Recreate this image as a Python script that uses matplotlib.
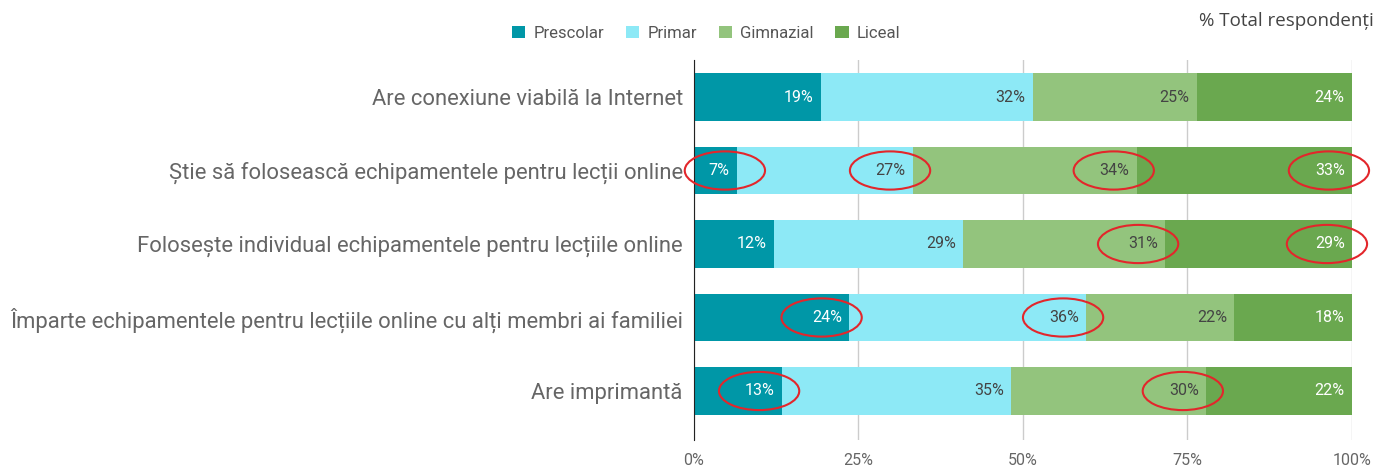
import matplotlib.pyplot as plt
import matplotlib.patches as patches
import numpy as np

plt.rcParams['font.family'] = ['Roboto', 'DejaVu Sans']

categories = [
    "Are conexiune viabilă la Internet",
    "Știe să folosească echipamentele pentru lecții online",
    "Folosește individual echipamentele pentru lecțiile online",
    "Împarte echipamentele pentru lecțiile online cu alți membri ai familiei",
    "Are imprimantă",
]
series = ["Prescolar", "Primar", "Gimnazial", "Liceal"]
# segment shares (%)
prescolar = [19.3, 6.5, 12.2, 23.6, 13.4]
primar = [32.2, 26.8, 28.7, 36.0, 34.8]
gimnazial = [24.9, 34.0, 30.7, 22.5, 29.6]
liceal = [23.6, 32.7, 28.4, 17.9, 22.2]
# printed labels
lbl_prescolar = [19, 7, 12, 24, 13]
lbl_primar = [32, 27, 29, 36, 35]
lbl_gimnazial = [25, 34, 31, 22, 30]
lbl_liceal = [24, 33, 29, 18, 22]
# (row, series index, x nudge in %) of labels circled in red
circled = [(1, 0, 1.7), (1, 1, 0), (1, 2, 0), (1, 3, 0), (2, 2, -0.6), (2, 3, -0.3),
           (3, 0, -0.7), (3, 1, 0), (4, 0, 0), (4, 2, 0)]

colors = ["#0097a7", "#8de9f6", "#93c47d", "#6aa84f"]
text_colors = ["white", "#444444", "#444444", "white"]

values = [prescolar, primar, gimnazial, liceal]
labels = [lbl_prescolar, lbl_primar, lbl_gimnazial, lbl_liceal]

fig = plt.figure(figsize=(13.78, 4.69), dpi=100)
ax = fig.add_axes([0.5036, 0.0618, 0.4775, 0.8102])

y = np.arange(len(categories))
left = np.zeros(len(categories))
ends = []
for i, name in enumerate(series):
    v = np.array(values[i])
    ax.barh(y, v, left=left, height=0.65, color=colors[i], label=name, zorder=2)
    end = left + v
    ends.append(end)
    for r in range(len(categories)):
        ax.text(end[r] - 1.1, y[r], f"{labels[i][r]}%", ha="right", va="center",
                fontsize=11.5, color=text_colors[i], zorder=4)
    left = end

for r, s, dx in circled:
    cx = ends[s][r] - 3.5 + dx
    ax.add_patch(patches.Ellipse((cx, y[r]), 12.2, 0.52, fill=False,
                                 edgecolor="#e3262b", linewidth=1.5,
                                 clip_on=False, zorder=5))

ax.set_xlim(0, 100)
ax.set_ylim(4.667, -0.503)
ax.set_xticks([0, 25, 50, 75, 100])
ax.set_xticklabels(["0%", "25%", "50%", "75%", "100%"])
ax.set_yticks(y)
ax.set_yticklabels(categories)
ax.tick_params(axis="y", length=0, pad=8, labelsize=15.8, labelcolor="#666666")
ax.tick_params(axis="x", length=0, pad=9, labelsize=11.5, labelcolor="#666666")
ax.grid(axis="x", color="#cccccc", linewidth=1, zorder=0)
for s in ["top", "right", "bottom"]:
    ax.spines[s].set_visible(False)
ax.spines["left"].set_color("#222222")
ax.spines["left"].set_zorder(3)

leg = fig.legend(loc="center", bbox_to_anchor=(0.5125, 0.929), ncol=4, frameon=False,
                 fontsize=12, handlelength=0.8, handleheight=0.8, handletextpad=0.5,
                 columnspacing=1.3)
for t in leg.get_texts():
    t.set_color("#555555")

fig.text(0.997, 0.955, "% Total respondenți", ha="right", va="center",
         fontsize=13.5, color="#444444", family=["Open Sans", "DejaVu Sans"])

plt.savefig("out.png", dpi=100)
